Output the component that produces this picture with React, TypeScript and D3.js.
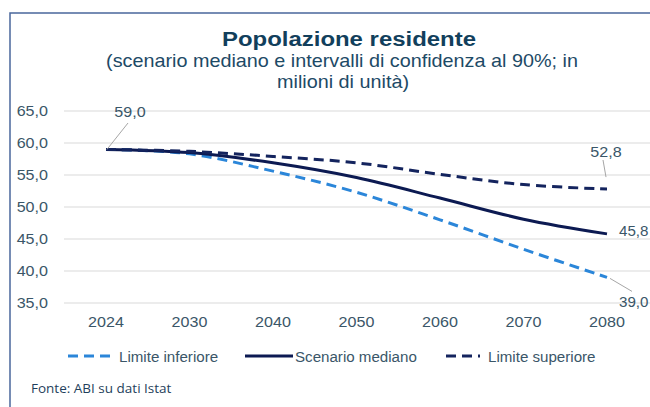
import React from "react";
import * as d3 from "d3";

const years = ["2024", "2030", "2040", "2050", "2060", "2070", "2080"];
const lowerBound = [59.0, 58.3, 55.6, 52.3, 48.0, 43.4, 39.0];
const median = [59.0, 58.5, 56.9, 54.6, 51.4, 48.1, 45.8];
const upperBound = [59.0, 58.7, 57.9, 56.9, 55.1, 53.5, 52.8];
const yTicks = [35, 40, 45, 50, 55, 60, 65];

const series = [
  { key: "lower", label: "Limite inferiore", values: lowerBound, color: "#2b86d9", dash: "10 6" },
  { key: "median", label: "Scenario mediano", values: median, color: "#0c1a52", dash: null },
  { key: "upper", label: "Limite superiore", values: upperBound, color: "#14245e", dash: "10 6" },
];

const fmt = (v: number) => v.toFixed(1).replace(".", ",");

// text that is a bit wider than Arial, like the reference
const T = ({ x, y, sx = 1.15, anchor = "start", children, ...rest }: any) => (
  <text transform={`translate(${x},${y}) scale(${sx},1)`} textAnchor={anchor} {...rest}>
    {children}
  </text>
);

export default function App() {
  const width = 650;
  const height = 407;
  const x = d3.scalePoint<string>().domain(years).range([106, 607]);
  const y = d3.scaleLinear().domain([35, 65]).range([303, 111]);
  const line = d3
    .line<number>()
    .x((_, i) => x(years[i]) as number)
    .y((d) => y(d))
    .curve(d3.curveCatmullRom.alpha(0.5));

  const last = years.length - 1;
  const xl = x(years[last]) as number;
  const x0 = x(years[0]) as number;
  const textColor = "#3a5668";

  return (
    <svg
      width={width}
      height={height}
      style={{ position: "absolute", left: 0, top: 0, background: "#fff" }}
      fontFamily="'Liberation Sans', Arial, sans-serif"
    >
      <rect x={10} y={13} width={660} height={420} fill="none" stroke="#4a679c" strokeWidth={1.5} />

      <T x={349} y={46} sx={1.14} anchor="middle" fontSize={21} fontWeight="bold" fill="#123f5c">
        Popolazione residente
      </T>
      <T x={342} y={67} sx={1.1} anchor="middle" fontSize={18} fill="#1d4a66">
        (scenario mediano e intervalli di confidenza al 90%; in
      </T>
      <T x={343} y={88} sx={1.1} anchor="middle" fontSize={18} fill="#1d4a66">
        milioni di unità)
      </T>

      {yTicks.map((t) => (
        <g key={t}>
          <line x1={64} x2={650} y1={y(t)} y2={y(t)} stroke="#d9d9d9" strokeWidth={1} />
          <T x={48} y={y(t) + 5} anchor="end" fontSize={14} fill={textColor}>
            {fmt(t)}
          </T>
        </g>
      ))}

      {years.map((yr) => (
        <T key={yr} x={x(yr)} y={327} anchor="middle" fontSize={14} fill={textColor}>
          {yr}
        </T>
      ))}

      {series.map((s) => (
        <path
          key={s.key}
          d={line(s.values) as string}
          fill="none"
          stroke={s.color}
          strokeWidth={3}
          strokeDasharray={s.dash ?? undefined}
        />
      ))}

      {/* data labels */}
      <g fontSize={14} fill={textColor}>
        <line x1={x0 + 1} y1={y(median[0])} x2={x0 + 22} y2={123} stroke="#a6a6a6" />
        <T x={x0 + 24} y={117} anchor="middle">{fmt(median[0])}</T>

        <line x1={xl - 1} y1={y(upperBound[last]) - 12} x2={xl - 4} y2={160} stroke="#a6a6a6" />
        <T x={xl - 1} y={157} anchor="middle">{fmt(upperBound[last])}</T>

        <T x={xl + 12} y={y(median[last]) + 2} sx={1.08}>{fmt(median[last])}</T>

        <line x1={xl + 3} y1={y(lowerBound[last]) + 1} x2={xl + 25} y2={y(lowerBound[last]) + 14} stroke="#a6a6a6" />
        <T x={xl + 12} y={y(lowerBound[last]) + 30} sx={1.08}>{fmt(lowerBound[last])}</T>
      </g>

      {/* legend */}
      {[
        { s: series[0], lx: 68, len: 42, tx: 119 },
        { s: series[1], lx: 245, len: 48, tx: 295 },
        { s: series[2], lx: 446, len: 34, tx: 488 },
      ].map(({ s, lx, len, tx }) => (
        <g key={s.key}>
          <line
            x1={lx}
            x2={lx + len}
            y1={356}
            y2={356}
            stroke={s.color}
            strokeWidth={3}
            strokeDasharray={s.dash ? "10 6" : undefined}
          />
          <T x={tx} y={362} sx={1.08} fontSize={14} fill={textColor}>
            {s.label}
          </T>
        </g>
      ))}

      <text x={31} y={393} fontSize={13.5} fill="#1f3f5c" fontFamily="'Open Sans', 'Noto Sans', sans-serif">
        Fonte: ABI su dati Istat
      </text>
    </svg>
  );
}
